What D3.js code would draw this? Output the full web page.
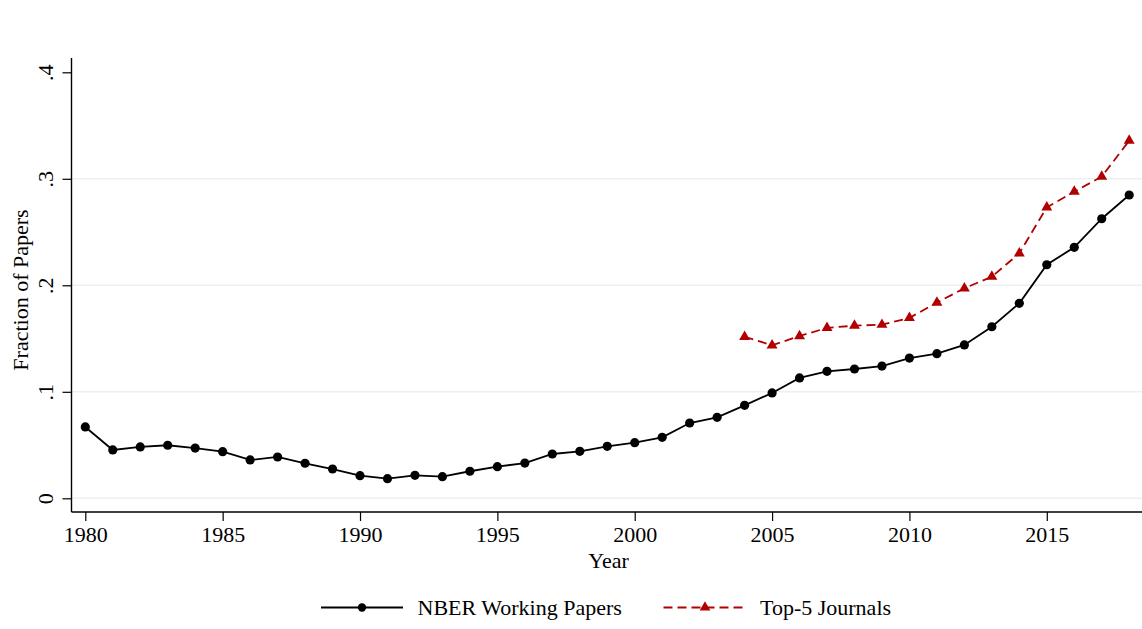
<!DOCTYPE html>
<html>
<head>
<meta charset="utf-8">
<script src="https://cdn.jsdelivr.net/npm/d3@7"></script>
<style>
  html, body { margin: 0; padding: 0; background: #fff; }
  svg { display: block; }
  text { font-family: "Liberation Serif", "Times New Roman", serif; fill: #000; }
</style>
</head>
<body>
<svg id="chart" width="1142" height="629"></svg>
<script>
const nberYears = d3.range(1980, 2019);
const nberValues = [0.067, 0.0454, 0.0482, 0.0498, 0.0472, 0.0438, 0.0360, 0.0388, 0.0329, 0.0275,
                    0.0212, 0.0184, 0.0216, 0.0203, 0.0254, 0.0297, 0.0331, 0.0416, 0.0441, 0.0488,
                    0.0522, 0.0573, 0.0707, 0.0760, 0.0873, 0.0989, 0.1130, 0.1192, 0.1214, 0.1242,
                    0.1317, 0.1358, 0.1440, 0.1611, 0.1831, 0.2193, 0.2357, 0.2625, 0.2848];
const top5Years = d3.range(2004, 2019);
const top5Values = [0.1517, 0.1437, 0.1524, 0.1600, 0.1621, 0.1630, 0.1694, 0.1837, 0.1972, 0.2081,
                    0.2300, 0.2732, 0.2879, 0.3020, 0.3358];
const yTicks = [0, 0.1, 0.2, 0.3, 0.4];
const yTickLabels = ["0", ".1", ".2", ".3", ".4"];
const gridTicks = [0, 0.1, 0.2, 0.3];
const xTicks = [1980, 1985, 1990, 1995, 2000, 2005, 2010, 2015];
const seriesNames = ["NBER Working Papers", "Top-5 Journals"];

const W = 1142, H = 629;
const RED = "#b20000";
const svg = d3.select("#chart");

const x = d3.scaleLinear().domain([1980, 2018]).range([85.3, 1129.2]);
const y = d3.scaleLinear().domain([0, 0.4]).range([498.3, 72.3]);
const axisX = 71.5, axisY = 512;

// gridlines
svg.append("g").selectAll("line").data(gridTicks).join("line")
  .attr("x1", axisX).attr("x2", W)
  .attr("y1", d => y(d)).attr("y2", d => y(d))
  .attr("stroke", "#eaf1f3").attr("stroke-width", 1.6);

// y axis
const yAxis = d3.axisLeft(y).tickValues(yTicks).tickSize(9)
  .tickFormat((d, i) => yTickLabels[i]);
const gy = svg.append("g").attr("transform", `translate(${axisX},0)`).call(yAxis);
gy.select(".domain").attr("d", `M0,58V${axisY}`).attr("stroke", "#000").attr("stroke-width", 1.4);
gy.selectAll(".tick line").attr("stroke", "#000").attr("stroke-width", 1.2);
gy.selectAll(".tick text")
  .attr("x", null).attr("dy", null)
  .attr("transform", "translate(-18.5,0) rotate(-90)")
  .attr("text-anchor", "middle")
  .style("font-size", "22px").style("font-family", "Liberation Serif");

// x axis
const xAxis = d3.axisBottom(x).tickValues(xTicks).tickSize(9).tickFormat(d3.format("d"));
const gx = svg.append("g").attr("transform", `translate(0,${axisY})`).call(xAxis);
gx.select(".domain").attr("d", `M${axisX},0H${W}`).attr("stroke", "#000").attr("stroke-width", 1.4);
gx.selectAll(".tick line").attr("stroke", "#000").attr("stroke-width", 1.2);
gx.selectAll(".tick text").attr("y", 30).attr("dy", null)
  .style("font-size", "22px").style("font-family", "Liberation Serif");

// axis titles
svg.append("text").attr("x", 608.5).attr("y", 568)
  .attr("text-anchor", "middle").style("font-size", "22px").text("Year");
svg.append("text").attr("transform", "translate(28,290) rotate(-90)")
  .attr("text-anchor", "middle").style("font-size", "22px").text("Fraction of Papers");

// lines
const line = d3.line().x(d => x(d[0])).y(d => y(d[1]));
const nber = nberYears.map((yr, i) => [yr, nberValues[i]]);
const top5 = top5Years.map((yr, i) => [yr, top5Values[i]]);

svg.append("path").datum(nber).attr("d", line)
  .attr("fill", "none").attr("stroke", "#000").attr("stroke-width", 1.8);
svg.append("path").datum(top5).attr("d", line)
  .attr("fill", "none").attr("stroke", RED).attr("stroke-width", 1.8)
  .attr("stroke-dasharray", "9,5");

svg.append("g").selectAll("circle").data(nber).join("circle")
  .attr("cx", d => x(d[0])).attr("cy", d => y(d[1])).attr("r", 4.6).attr("fill", "#000");

const tri = d3.symbol().type(d3.symbolTriangle).size(52);
svg.append("g").selectAll("path").data(top5).join("path")
  .attr("d", tri).attr("transform", d => `translate(${x(d[0])},${y(d[1])})`)
  .attr("fill", RED);

// legend
const ly = 607.5;
const leg = svg.append("g");
leg.append("line").attr("x1", 321).attr("x2", 403).attr("y1", ly).attr("y2", ly)
  .attr("stroke", "#000").attr("stroke-width", 1.8);
leg.append("circle").attr("cx", 362).attr("cy", ly).attr("r", 4.2).attr("fill", "#000");
leg.append("text").attr("x", 417.5).attr("y", 615).style("font-size", "22px").text(seriesNames[0]);
leg.append("line").attr("x1", 663.5).attr("x2", 746.5).attr("y1", ly).attr("y2", ly)
  .attr("stroke", RED).attr("stroke-width", 1.8).attr("stroke-dasharray", "9,5");
leg.append("path").attr("d", d3.symbol().type(d3.symbolTriangle).size(50))
  .attr("transform", `translate(705,${ly})`).attr("fill", RED);
leg.append("text").attr("x", 760).attr("y", 615).style("font-size", "22px").text(seriesNames[1]);
</script>
</body>
</html>
